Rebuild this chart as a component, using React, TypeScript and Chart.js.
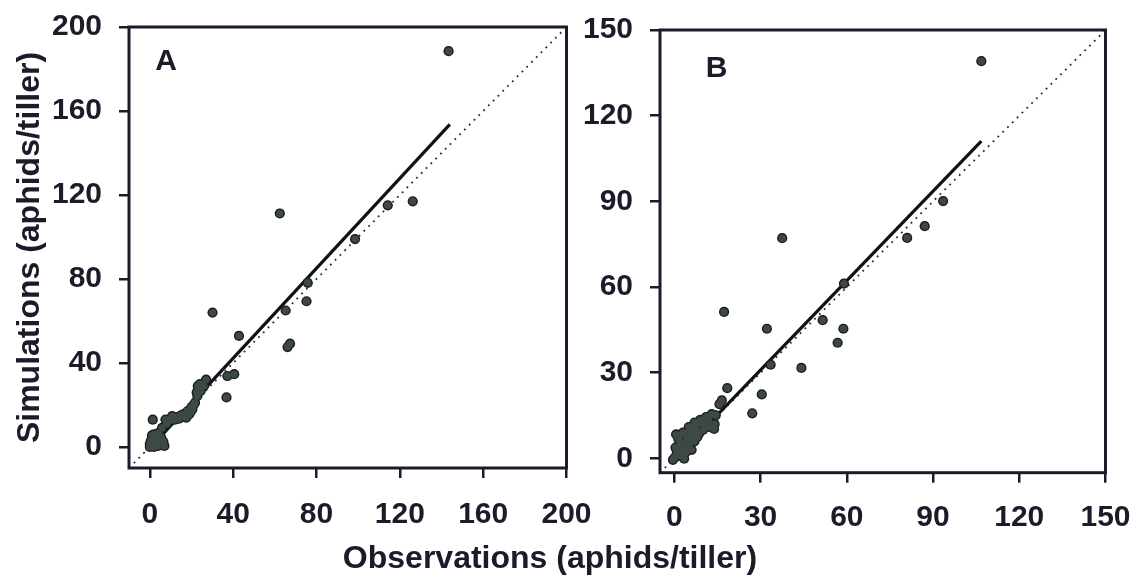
import React, { useEffect, useRef } from "react";
import { Chart, registerables } from "chart.js";

Chart.register(...registerables);

// ---------- Panel A data ----------
const obsA = [
  143.4, 62.4, 114.2, 126.2, 98.5, 75.8, 75.2, 65.2, 30.1, 42.8, 67.3, 66.1, 37.2, 40.5, 36.8, 27.0, 1.4,
  0, 1, 2, 3, 4, 5, 6, 6.5, 5, 3, 1, 0, 0.5, 1.5, 2.5, 1, 2, 3, 4, 4.3, 5.9,
  7.5, 9, 10.7, 12.5, 14.8, 16.5, 18.8, 19.5, 20.4, 21.7, 22.8, 23.6, 24.4, 26,
  8, 10, 12, 14, 16, 17.5, 18, 20, 21, 22.5, 23, 24, 1.5, 3.5, 5.5, 7,
];
const simA = [
  188.5, 111.2, 115.1, 117.0, 99.0, 78.2, 69.4, 65.0, 64.0, 52.9, 49.2, 47.6, 33.8, 34.7, 23.6, 32.1, 13.0,
  0, 0.5, 0, 0.5, 0.5, 1, 1.5, 2.5, 2.5, 2, 1.5, 1.5, 3, 4, 5, 5.5, 6, 4, 3, 6.7, 9.1,
  13.1, 12.5, 14.7, 14.2, 15, 14.5, 15.5, 16.5, 17.9, 21.1, 24.3, 28.5, 26.7, 29.1,
  11, 12.8, 13, 13.5, 15.5, 14, 17, 19, 20, 26, 29, 30, 2.5, 3.5, 4.5, 0.5,
];
const fitAx = [0, 144];
const fitAy = [-0.5, 153.6];
const ticksA = [0, 40, 80, 120, 160, 200];

// ---------- Panel B data ----------
const obsB = [
  106.8, 93.5, 87.1, 81.0, 37.5, 59.0, 17.3, 32.2, 51.6, 58.8, 56.8, 44.2, 33.5, 18.4, 30.4, 27.1, 16.5, 15.7, 0.6,
  0.1, 1.4, 3.4, 0.8, 2.1, 1.4, 4.0, 6.0, 7.9, 9.9, 11.8, 14.4, 13.8, 11.2, 8.6, 6.0, 5.3, 4.0, 3.4, 6.6, 4.7,
  2.7, 0.4, 7.3, 12.5, -0.5, 1.0,
  2, 3, 5, 7, 9, 11, 13, 10, 12, 14, 8, 6, 4, 5, 7, 8, 6, 4, 2, 3, 1,
];
const simB = [
  139.1, 90.1, 81.3, 77.2, 77.1, 61.2, 51.3, 45.4, 48.4, 45.4, 40.5, 31.7, 32.8, 24.6, 22.4, 15.8, 20.3, 19.0, 8.4,
  0.3, 0.9, -0.1, 2.8, 4.8, 6.7, 8.7, 10.0, 11.9, 12.5, 13.6, 15.1, 10.3, 11.3, 8.7, 6.1, 3.5, 2.2, 4.8, 8.0, 6.7,
  2.8, 3.8, 10.6, 11.9, -0.5, 1.7,
  8, 9, 11, 12.5, 13.5, 14.5, 15.5, 10, 11, 12, 9, 8, 6, 5, 6, 7.5, 3, 4, 2, 1, 3,
];
const fitBx = [0, 106.8];
const fitBy = [-0.3, 111.1];
const ticksB = [0, 30, 60, 90, 120, 150];

const yTitle = "Simulations (aphids/tiller)";
const xTitle = "Observations (aphids/tiller)";

const INK = "#1b1b29";
const FILL = "#3d4a43";
const FONT = "'Liberation Sans', Arial, sans-serif";

const framePlugin = {
  id: "frame",
  afterDatasetsDraw(chart: any, _args: any, opts: any) {
    const { ctx, chartArea } = chart;
    const { left, top, right, bottom } = chartArea;
    ctx.save();
    ctx.strokeStyle = INK;
    ctx.lineWidth = 3;
    ctx.strokeRect(left, top, right - left, bottom - top);
    ctx.fillStyle = INK;
    ctx.font = `bold 30px ${FONT}`;
    ctx.textAlign = "center";
    ctx.textBaseline = "middle";
    ctx.fillText(opts.text, left + opts.dx, top + opts.dy);
    ctx.restore();
  },
};

type Area = { left: number; top: number; right: number; bottom: number };

type PanelProps = {
  obs: number[];
  sim: number[];
  fitX: number[];
  fitY: number[];
  ticks: number[];
  min: number;
  max: number;
  letter: string;
  showYTitle: boolean;
  canvasLeft: number;
  area: Area;
  xLabelPad: number;
  letterDx: number;
  letterDy: number;
};

const PAD_TOP = 40;
const PAD_RIGHT = 46;
const CANVAS_H = 600;

function Panel(p: PanelProps) {
  const ref = useRef<HTMLCanvasElement | null>(null);
  const canvasTop = p.area.top - PAD_TOP;
  const width = Math.ceil(p.area.right + PAD_RIGHT - p.canvasLeft);
  const padRight = width - (p.area.right - p.canvasLeft);
  const yAxisW = p.area.left - p.canvasLeft;
  const xAxisH = canvasTop + CANVAS_H - p.area.bottom;

  useEffect(() => {
    if (!ref.current) return;
    const pts = p.obs.map((x, i) => ({ x, y: p.sim[i] }));
    const fit = p.fitX.map((x, i) => ({ x, y: p.fitY[i] }));
    const diag = [
      { x: p.min, y: p.min },
      { x: p.max, y: p.max },
    ];
    const tickFont = { family: FONT, size: 30, weight: "bold" as const };
    const grid = {
      drawOnChartArea: false,
      drawTicks: true,
      tickLength: 10,
      color: INK,
      lineWidth: 2.5,
    };
    const chart = new Chart(ref.current, {
      type: "scatter",
      data: {
        datasets: [
          {
            type: "scatter",
            data: pts,
            pointRadius: 3.7,
            pointBackgroundColor: FILL,
            pointBorderWidth: 0,
            order: 0,
          } as any,
          {
            type: "scatter",
            data: pts,
            pointRadius: 5.1,
            pointBackgroundColor: INK,
            pointBorderWidth: 0,
            order: 1,
          } as any,
          {
            type: "line",
            data: fit,
            borderColor: "#111118",
            borderWidth: 3.2,
            pointRadius: 0,
            order: 2,
          } as any,
          {
            type: "line",
            data: diag,
            borderColor: "#2a2a34",
            borderWidth: 1.8,
            borderDash: [1.8, 5],
            pointRadius: 0,
            order: 3,
          } as any,
        ],
      },
      options: {
        animation: false,
        responsive: false,
        events: [],
        layout: { padding: { top: PAD_TOP, right: padRight, left: 0, bottom: 0 } },
        plugins: {
          legend: { display: false },
          tooltip: { enabled: false },
          frame: { text: p.letter, dx: p.letterDx, dy: p.letterDy },
        } as any,
        scales: {
          x: {
            type: "linear",
            min: p.min,
            max: p.max,
            afterBuildTicks: (s: any) => {
              s.ticks = p.ticks.map((v) => ({ value: v }));
            },
            afterFit: (s: any) => {
              s.height = xAxisH;
            },
            border: { display: false },
            grid,
            ticks: { padding: p.xLabelPad, color: INK, font: tickFont, maxRotation: 0, autoSkip: false },
          },
          y: {
            type: "linear",
            min: p.min,
            max: p.max,
            afterBuildTicks: (s: any) => {
              s.ticks = p.ticks.map((v) => ({ value: v }));
            },
            afterFit: (s: any) => {
              s.width = yAxisW;
            },
            border: { display: false },
            grid,
            ticks: { padding: 17, color: INK, font: tickFont, autoSkip: false },
            title: {
              display: p.showYTitle,
              text: yTitle,
              color: INK,
              font: { family: FONT, size: 32, weight: "bold" },
              padding: { top: 11, bottom: 0 },
            },
          },
        },
      },
      plugins: [framePlugin],
    });
    return () => chart.destroy();
  }, []);
  return (
    <canvas
      ref={ref}
      width={width}
      height={CANVAS_H}
      style={{ position: "absolute", left: p.canvasLeft, top: canvasTop, width, height: CANVAS_H }}
    />
  );
}

export default function App() {
  return (
    <div
      style={{
        position: "absolute",
        left: 0,
        top: 0,
        width: 1135,
        height: 578,
        background: "#ffffff",
        overflow: "hidden",
      }}
    >
      <Panel
        obs={obsA}
        sim={simA}
        fitX={fitAx}
        fitY={fitAy}
        ticks={ticksA}
        min={-10}
        max={200}
        letter="A"
        showYTitle={true}
        canvasLeft={0}
        area={{ left: 129, top: 27, right: 566.5, bottom: 468 }}
        xLabelPad={19}
        letterDx={37}
        letterDy={35}
      />
      <Panel
        obs={obsB}
        sim={simB}
        fitX={fitBx}
        fitY={fitBy}
        ticks={ticksB}
        min={-5}
        max={150}
        letter="B"
        showYTitle={false}
        canvasLeft={570}
        area={{ left: 660, top: 29.6, right: 1105.5, bottom: 472.3 }}
        xLabelPad={17}
        letterDx={56.5}
        letterDy={38.8}
      />
      <div
        style={{
          position: "absolute",
          left: 0,
          width: 1100,
          top: 538,
          textAlign: "center",
          font: `bold 32px ${FONT}`,
          lineHeight: "38px",
          color: INK,
        }}
      >
        {xTitle}
      </div>
    </div>
  );
}
